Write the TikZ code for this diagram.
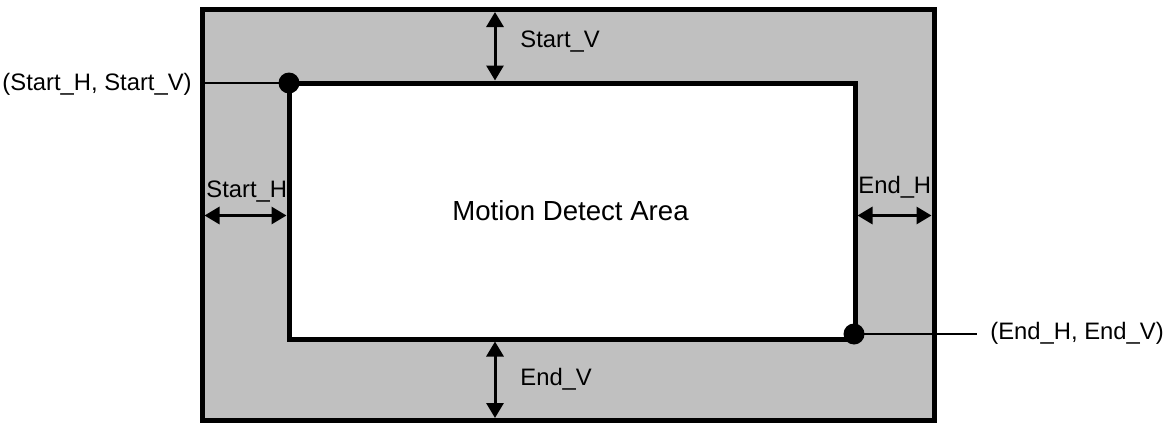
\documentclass[tikz,border=0pt]{standalone}
\usepackage{fontspec}
\setmainfont{Liberation Sans}
\usetikzlibrary{arrows.meta}
\definecolor{areagray}{HTML}{C0C0C0}

\begin{document}
\begin{tikzpicture}[x=0.5pt,y=-0.5pt,
  frame/.style={line width=2.5pt},
  dimarrow/.style={line width=1.5pt,
    {Triangle[width=8.5pt,length=7.5pt]}-{Triangle[width=8.5pt,length=7.5pt]}},
  leader/.style={line width=1pt},
  cornerdot/.style={circle,fill=black,inner sep=0pt,minimum size=10.5pt},
  lbl/.style={font=\fontsize{11.9}{14}\selectfont,inner sep=0pt}]
\useasboundingbox (0,0) rectangle (1167,423);
% frame and detect area
\coordinate (frameNW) at (202,9.5);
\coordinate (frameSE) at (934,420.5);
\coordinate (areaNW) at (289,83);
\coordinate (areaSE) at (855,339);
\draw[frame,fill=areagray] (frameNW) rectangle (frameSE);
\draw[frame,fill=white] (areaNW) rectangle (areaSE);
\node[lbl,font=\fontsize{13.8}{16}\selectfont,anchor=base west] (area) at (452,220) {Motion Detect Area};
% corners
\node[cornerdot] (startdot) at (areaNW) {};
\node[cornerdot] (enddot) at (854,334) {};
\node[lbl,anchor=base east] (startpt) at (192,90) {(Start\_H, Start\_V)};
\node[lbl,anchor=base west] (endpt) at (990,339) {(End\_H, End\_V)};
\coordinate (startlead) at (frameNW |- startdot);
\draw[leader] (startdot.center) -- (startlead);
\draw[leader] (enddot.center) -- ([xshift=-6.5pt]endpt.west |- enddot);
% offsets
\coordinate (svtop) at (495,12);
\coordinate (svbot) at (495,80.5);
\coordinate (evtop) at (495,341.5);
\coordinate (evbot) at (495,418);
\coordinate (shleft) at (204.5,215.5);
\coordinate (shright) at (286.5,215.5);
\coordinate (ehleft) at (857.5,215.5);
\coordinate (ehright) at (931.5,215.5);
\draw[dimarrow] (svtop) -- (svbot);
\draw[dimarrow] (evtop) -- (evbot);
\draw[dimarrow] (shleft) -- (shright);
\draw[dimarrow] (ehleft) -- (ehright);
\node[lbl,anchor=base west] (startv) at (520,47) {Start\_V};
\node[lbl,anchor=base west] (endv) at (520,385) {End\_V};
\node[lbl,anchor=base west] (starth) at (206,197) {Start\_H};
\node[lbl,anchor=base west] (endh) at (858,193) {End\_H};
\end{tikzpicture}
\end{document}
